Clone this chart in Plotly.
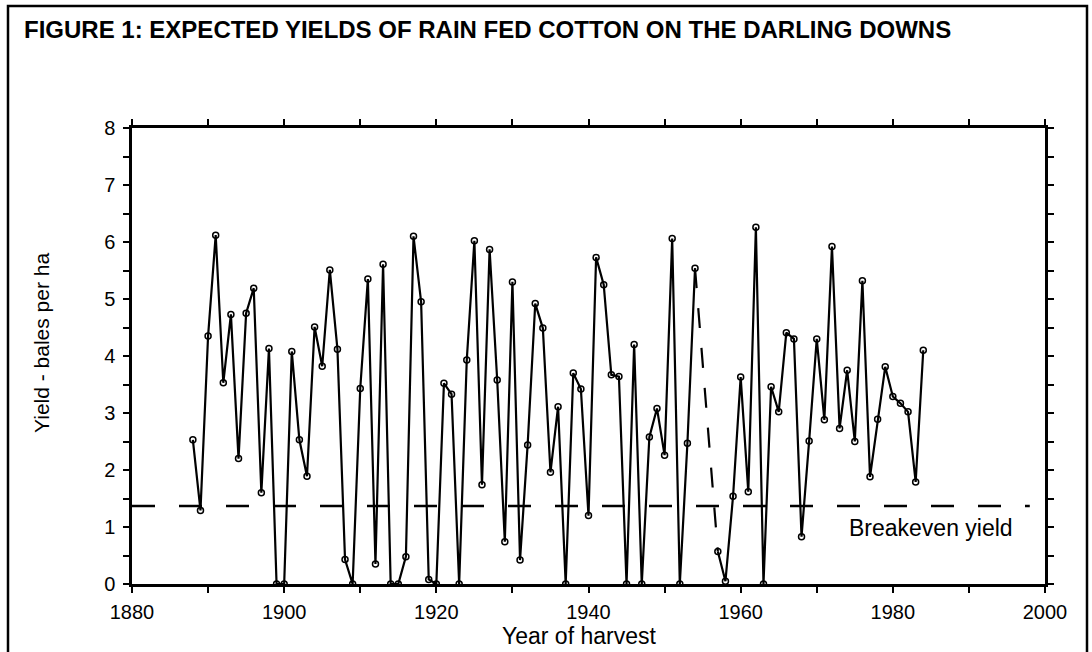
import plotly.graph_objects as go

years = list(range(1888, 1985))
yields = [
    2.53, 1.29, 4.35, 6.12, 3.53, 4.73, 2.20, 4.75, 5.19, 1.60,   # 1888-1897
    4.13, 0.00, 0.00, 4.08, 2.53, 1.89, 4.51, 3.82, 5.51, 4.12,   # 1898-1907
    0.43, 0.00, 3.43, 5.35, 0.35, 5.61, 0.00, 0.00, 0.48, 6.10,   # 1908-1917
    4.95, 0.08, 0.00, 3.52, 3.33, 0.00, 3.93, 6.02, 1.74, 5.87,   # 1918-1927
    3.58, 0.74, 5.30, 0.42, 2.44, 4.92, 4.49, 1.96, 3.11, 0.00,   # 1928-1937
    3.70, 3.42, 1.20, 5.73, 5.25, 3.67, 3.64, 0.00, 4.20, 0.00,   # 1938-1947
    2.58, 3.08, 2.26, 6.06, 0.00, 2.47, 5.54, None, None, 0.57,   # 1948-1957
    0.05, 1.54, 3.63, 1.62, 6.26, 0.00, 3.46, 3.02, 4.41, 4.30,   # 1958-1967
    0.83, 2.51, 4.30, 2.88, 5.92, 2.73, 3.75, 2.50, 5.32, 1.88,   # 1968-1977
    2.89, 3.81, 3.29, 3.17, 3.02, 1.79, 4.10,                     # 1978-1984
]
gap_years = [1954, 1957]          # years joined by the dashed (missing-data) segment
breakeven_years = [1880, 1998]
breakeven_value = 1.37

x_tickvals = list(range(1880, 2001, 10))
x_ticktext = [str(v) if v % 20 == 0 else "" for v in x_tickvals]
y_tickvals = [i * 0.5 for i in range(17)]
y_ticktext = [str(int(v)) if v == int(v) else "" for v in y_tickvals]

FONT = "Liberation Sans, Arial, Helvetica, sans-serif"

fig = go.Figure()

# dashed connector over missing years
gap_vals = [yields[years.index(y)] for y in gap_years]
fig.add_trace(go.Scatter(
    x=gap_years, y=gap_vals, mode="lines",
    line=dict(color="black", width=2.2, dash="20px,20px"),
    hoverinfo="skip", showlegend=False,
))

# yield series
fig.add_trace(go.Scatter(
    x=years, y=yields, mode="lines+markers",
    line=dict(color="black", width=2.2),
    marker=dict(symbol="circle-open", size=6, color="black", line=dict(width=1.5)),
    connectgaps=False, showlegend=False,
))

axis_common = dict(
    showgrid=False, zeroline=False, showline=True, linecolor="black", linewidth=2.5,
    mirror="allticks", ticks="outside", ticklen=6, tickwidth=2, tickcolor="black",
    tickfont=dict(family=FONT, size=20, color="black"),
)

fig.update_xaxes(range=[1880, 2000], tickmode="array", tickvals=x_tickvals,
                 ticktext=x_ticktext, ticklabelstandoff=2, **axis_common)
fig.update_yaxes(range=[0, 8], tickmode="array", tickvals=y_tickvals,
                 ticktext=y_ticktext, ticklabelstandoff=4, **axis_common)

L, R, T, B = 132, 47, 128, 68
W, H = 1092, 652
pw, ph = W - L - R, H - T - B

def px_x(px):
    return (px - L) / pw

def px_y(py):
    return (H - B - py) / ph

fig.update_layout(
    width=W, height=H,
    margin=dict(l=L, r=R, t=T, b=B),
    paper_bgcolor="white", plot_bgcolor="white",
    font=dict(family=FONT, color="black"),
    shapes=[
        dict(type="rect", xref="paper", yref="paper",
             x0=px_x(8), x1=px_x(1087), y0=px_y(668), y1=px_y(6),
             line=dict(color="black", width=2.5), fillcolor="rgba(0,0,0,0)",
             layer="below"),
        # breakeven yield line
        dict(type="line", xref="x", yref="y",
             x0=breakeven_years[0], x1=breakeven_years[1],
             y0=breakeven_value, y1=breakeven_value,
             line=dict(color="black", width=2.5, dash="23px,24px"),
             layer="above"),
    ],
    annotations=[
        dict(text="<b>FIGURE 1: EXPECTED YIELDS OF RAIN FED COTTON ON THE DARLING DOWNS</b>",
             xref="paper", yref="paper", x=px_x(22), y=px_y(29),
             xanchor="left", yanchor="middle", showarrow=False,
             font=dict(family=FONT, size=24, color="black")),
        dict(text="Year of harvest", xref="paper", yref="paper",
             x=px_x(579), y=px_y(636), xanchor="center", yanchor="middle",
             showarrow=False, font=dict(family=FONT, size=23, color="black")),
        dict(text="Yield - bales per ha", xref="paper", yref="paper",
             x=px_x(41), y=px_y(343), xanchor="center", yanchor="middle",
             textangle=-90, showarrow=False,
             font=dict(family=FONT, size=21, color="black")),
        dict(text="Breakeven yield", xref="x", yref="y",
             x=1974.0, y=0.98, xanchor="left", yanchor="middle",
             showarrow=False, font=dict(family=FONT, size=23, color="black")),
    ],
)

fig.write_html("out.html", config={"displayModeBar": False},
               post_script="document.body.style.margin='0';")
